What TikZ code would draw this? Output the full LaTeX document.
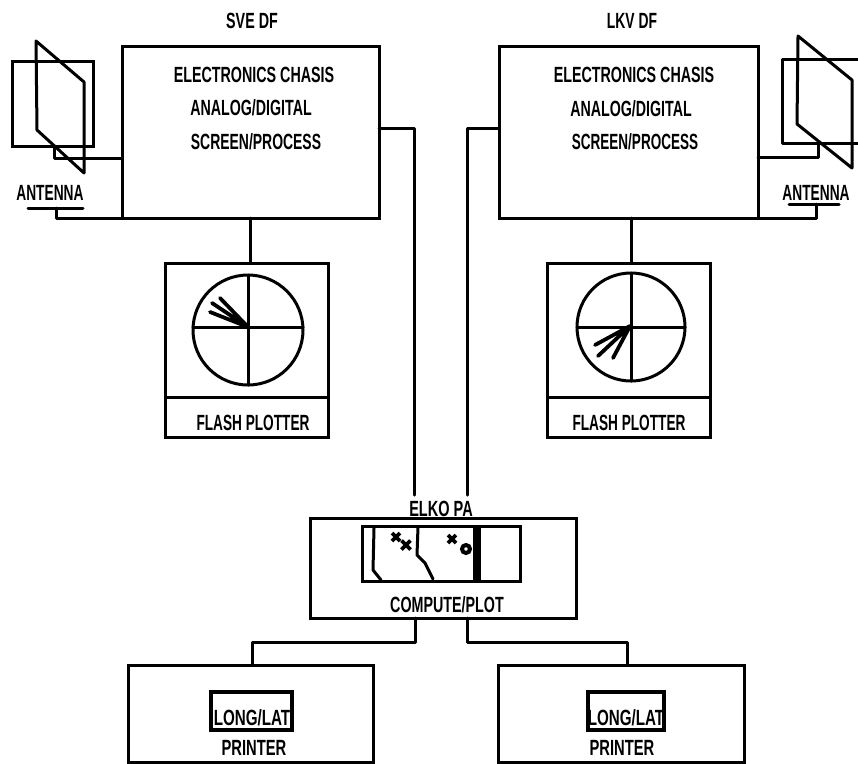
\documentclass[tikz,border=0pt]{standalone}
\usepackage{fontspec}
\setmainfont{Liberation Sans}
\tikzset{
  ln/.style={line width=3pt,line cap=round,line join=round},
  ray/.style={line width=3.8pt,line cap=round},
  box/.style={draw,line width=3pt,inner sep=0pt,outer sep=0pt,fill=none},
  lab/.style={font=\bfseries\fontsize{22}{22}\selectfont,inner sep=0pt},
}
\begin{document}
\begin{tikzpicture}[x=1pt,y=-1pt]
\useasboundingbox (0,0) rectangle (858,763);
% main chassis boxes
\node[box,minimum width=257pt,minimum height=172pt] (sve) at (250.5,132) {};
\node[box,minimum width=259pt,minimum height=172pt] (lkv) at (628.5,132) {};
\node[lab,xscale=.65] (svet) at (252,21) {SVE DF};
\node[lab,xscale=.63] (lkvt) at (632,21) {LKV DF};
\node[lab,xscale=.65] (s1) at (254,75) {ELECTRONICS CHASIS};
\node[lab,xscale=.647] (s2) at (251,108) {ANALOG/DIGITAL};
\node[lab,xscale=.634] (s3) at (256,142) {SCREEN/PROCESS};
\node[lab,xscale=.65] (l1) at (634,75) {ELECTRONICS CHASIS};
\node[lab,xscale=.647] (l2) at (631,109) {ANALOG/DIGITAL};
\node[lab,xscale=.615] (l3) at (635,142) {SCREEN/PROCESS};
% left antenna
\node[box,minimum width=81pt,minimum height=85pt] (arl) at (52.5,103.5) {};
\coordinate (pl1) at (36,41); \coordinate (pl2) at (84,82);
\coordinate (pl3) at (84,173); \coordinate (pl4) at (37,130);
\draw[ln] (pl1) -- (pl2) -- (pl3) -- (pl4) -- cycle;
\coordinate (al1) at (54,146); \coordinate (al2) at (54,158);
\draw[ln] (al1) -- (al2) -- (al2 -| sve.west);
\node[lab,xscale=.625] (antl) at (50,193) {ANTENNA};
\coordinate (ul1) at (28,208); \coordinate (ul2) at (83,208); \coordinate (ul3) at (56,208);
\draw[ln] (ul1) -- (ul2);
\draw[ln] (ul3) -- (ul3 |- sve.south) -- (sve.south west);
% right antenna
\coordinate (rr1) at (858,59); \coordinate (rr2) at (782,59);
\coordinate (rr3) at (782,143); \coordinate (rr4) at (858,143);
\draw[ln] (rr1) -- (rr2) -- (rr3) -- (rr4);
\coordinate (pr1) at (798,36); \coordinate (pr2) at (852,80);
\coordinate (pr3) at (852,168); \coordinate (pr4) at (797,124);
\draw[ln] (pr1) -- (pr2) -- (pr3) -- (pr4) -- cycle;
\coordinate (ar1) at (818,143); \coordinate (ar2) at (818,157);
\draw[ln] (ar1) -- (ar2) -- (ar2 -| lkv.east);
\node[lab,xscale=.625] (antr) at (816,193) {ANTENNA};
\coordinate (ur1) at (789,204); \coordinate (ur2) at (839,204); \coordinate (ur3) at (816,204);
\draw[ln] (ur1) -- (ur2);
\draw[ln] (ur3) -- (ur3 |- lkv.south) -- (lkv.south east);
% flash plotters
\node[box,minimum width=163pt,minimum height=134pt] (fl) at (246.5,330) {};
\node[box,minimum width=163pt,minimum height=40pt] (flb) at (246.5,417) {};
\node[lab,xscale=.62] (flt) at (253,423) {FLASH PLOTTER};
\node[box,circle,minimum size=110pt] (cl) at (248,330) {};
\draw[ln] (cl.west |- 0,327) -- (cl.east |- 0,327);
\draw[ln] (cl.north) -- (cl.south);
\coordinate (cc) at (248,327);
\coordinate (r1) at (220,298); \coordinate (r2) at (212,303); \coordinate (r3) at (210,312);
\draw[ray] (cc) -- (r1) (cc) -- (r2) (cc) -- (r3);
\node[box,minimum width=163pt,minimum height=134pt] (fr) at (628.5,330) {};
\node[box,minimum width=163pt,minimum height=40pt] (frb) at (628.5,417) {};
\node[lab,xscale=.62] (frt) at (629,423) {FLASH PLOTTER};
\node[box,circle,minimum size=108pt] (cr) at (631,327) {};
\draw[ln] (cr.west) -- (cr.east);
\draw[ln] (cr.north) -- (cr.south);
\coordinate (dd) at (630,326);
\coordinate (q1) at (595,345); \coordinate (q2) at (598,356); \coordinate (q3) at (613,358);
\draw[ray] (dd) -- (q1) (dd) -- (q2) (dd) -- (q3);
\coordinate (sl) at (250,218); \coordinate (sr) at (631,218);
\draw[ln] (sl |- sve.south) -- (sl |- fl.north);
\draw[ln] (sr |- lkv.south) -- (sr |- fr.north);
% ELKO
\node[lab,xscale=.66] (elko) at (441,509) {ELKO PA};
\node[box,minimum width=266pt,minimum height=100pt] (comp) at (443,568) {};
\node[box,minimum width=158pt,minimum height=55pt] (scr) at (441,553.5) {};
\node[lab,xscale=.65] (compt) at (447,605) {COMPUTE/PLOT};
\coordinate (b1) at (476.5,526); \coordinate (b2) at (476.5,581);
\draw[line width=8pt] (b1) -- (b2);
\coordinate (m1) at (374,528); \coordinate (m2) at (373,570); \coordinate (m3) at (381,580);
\draw[ln] (m1) -- (m2) -- (m3);
\coordinate (m4) at (418,527); \coordinate (m5) at (417,555); \coordinate (m6) at (425,563); \coordinate (m7) at (433,579);
\draw[ln] (m4) -- (m5) -- (m6) -- (m7);
\foreach \n/\p/\q/\s in {x1/396/537/4,x2/406/545/4.5,x3/452/539/4}{
  \coordinate (\n) at (\p,\q);
  \draw[line width=3.6pt] ([xshift=-\s pt,yshift=\s pt]\n) -- ([xshift=\s pt,yshift=-\s pt]\n)
                          ([xshift=-\s pt,yshift=-\s pt]\n) -- ([xshift=\s pt,yshift=\s pt]\n);
}
\node[draw,circle,line width=4pt,minimum size=8pt,inner sep=0pt] (tgt) at (466,549) {};
% connectors to ELKO
\coordinate (e1) at (414,495); \coordinate (e2) at (467,495);
\draw[ln] ([yshift=4pt]sve.east) -| (e1);
\draw[ln] ([yshift=4pt]lkv.west) -| (e2);
% printers
\node[box,minimum width=245pt,minimum height=97pt] (pa) at (250.5,713.5) {};
\node[box,minimum width=246pt,minimum height=97pt] (pb) at (621,713.5) {};
\node[box,line width=3.2pt,minimum width=81pt,minimum height=38pt] (ia) at (251.5,711) {};
\node[box,line width=3.2pt,minimum width=76pt,minimum height=38pt] (ib) at (626,711) {};
\node[lab,xscale=.69] (la) at (252,718) {LONG/LAT};
\node[lab,xscale=.67] (pra) at (254,748) {PRINTER};
\node[lab,xscale=.69] (lb) at (626,718) {LONG/LAT};
\node[lab,xscale=.67] (prb) at (622,748) {PRINTER};
\coordinate (k1) at (252,642); \coordinate (k2) at (415,642);
\coordinate (k3) at (467,642); \coordinate (k4) at (627,642);
\draw[ln] (k1 |- pa.north) -- (k1) -- (k2) -- (k2 |- comp.south);
\draw[ln] (k3 |- comp.south) -- (k3) -- (k4) -- (k4 |- pb.north);
\end{tikzpicture}
\end{document}
